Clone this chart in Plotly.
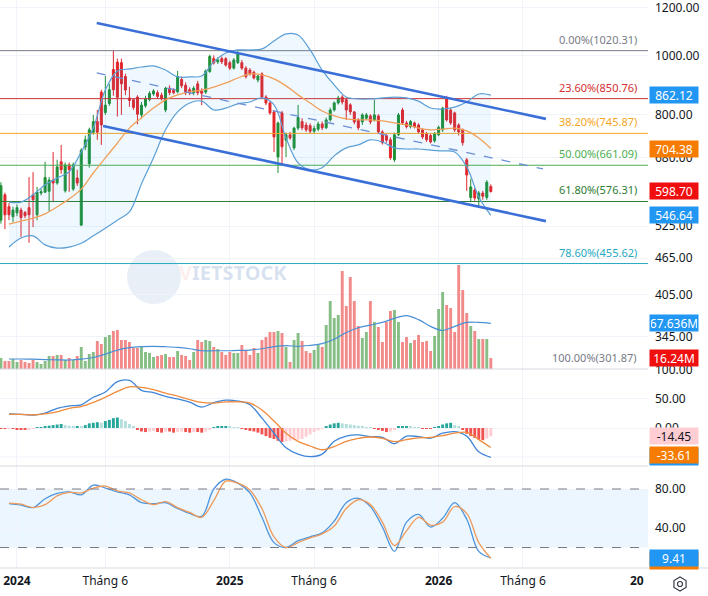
import math
import pandas as pd
import plotly.graph_objects as go

FONT = "Noto Sans"
TXT = "#131722"
GRID = "#f0f3fa"

# ---------------- data (weekly bars) ----------------
first_bar = "2023-12-04"
opens = [537, 591, 565, 544, 552, 558, 553, 563, 591, 548,
         595, 597, 599, 625, 618, 670, 600, 662, 604, 630,
         527, 708, 665, 749, 780, 872, 807, 835, 950, 977,
         975, 925, 853, 847, 856, 800, 828, 848, 866, 870,
         862, 815, 885, 878, 873, 915, 895, 880, 870, 900,
         876, 872, 943, 990, 978, 990, 990, 975, 955, 975,
         975, 955, 948, 940, 913, 935, 856, 837, 809, 682,
         806, 727, 742, 706, 761, 780, 770, 768, 752, 758,
         773, 762, 785, 815, 837, 856, 847, 831, 809, 785,
         779, 790, 797, 785, 797, 750, 740, 728, 675, 742,
         815, 776, 765, 776, 770, 756, 745, 740, 725, 742,
         756, 850, 815, 806, 770, 756, 675, 585, 602, 582,
         595, 585, 610]
highs = [620, 596, 573, 565, 570, 563, 556, 632, 644, 609,
         605, 670, 632, 695, 675, 714, 668, 668, 668, 650,
         705, 740, 762, 800, 815, 880, 927, 900, 1020.31, 990,
         990, 935, 890, 850, 862, 840, 860, 875, 882, 878,
         870, 890, 895, 885, 945, 925, 905, 888, 892, 910,
         885, 950, 1005, 1002, 995, 998, 995, 982, 992, 1018,
         985, 962, 955, 946, 932, 940, 862, 842, 815, 780,
         812, 748, 750, 765, 831, 790, 778, 775, 768, 780,
         780, 792, 822, 842, 860, 862, 852, 836, 812, 790,
         805, 806, 802, 847, 802, 755, 745, 735, 748, 806,
         822, 782, 785, 780, 775, 760, 750, 745, 750, 768,
         825, 860, 820, 810, 775, 760, 680, 628, 606, 600,
         600, 625, 615]
lows = [530, 519, 537, 533, 545, 504, 541, 493, 523, 537,
        590, 595, 555, 575, 614, 640, 596, 598, 600, 611,
        525, 700, 655, 742, 728, 714, 800, 828, 860, 795,
        800, 862, 825, 815, 772, 790, 822, 842, 860, 850,
        845, 808, 862, 865, 868, 885, 862, 862, 862, 862,
        830, 866, 938, 968, 970, 970, 960, 948, 950, 970,
        948, 918, 928, 915, 905, 850, 830, 800, 695, 642,
        662, 682, 728, 700, 755, 755, 750, 745, 745, 752,
        755, 758, 780, 810, 832, 832, 785, 800, 772, 755,
        770, 785, 772, 780, 745, 715, 720, 675, 669, 738,
        770, 760, 760, 760, 745, 730, 722, 718, 720, 738,
        750, 780, 770, 750, 740, 712, 600, 575, 578, 565,
        580, 580, 596]
closes = [612, 548, 548, 558, 563, 542, 546, 548, 580, 597,
          598, 631, 625, 618, 657, 650, 662, 650, 662, 618,
          700, 728, 756, 780, 749, 770, 830, 880, 880, 855,
          900, 879, 845, 823, 802, 830, 850, 868, 876, 858,
          850, 885, 870, 870, 925, 893, 870, 870, 885, 870,
          868, 945, 998, 974, 985, 978, 966, 955, 985, 1010,
          955, 925, 935, 920, 927, 856, 837, 806, 736, 776,
          709, 742, 733, 761, 792, 762, 756, 752, 760, 773,
          762, 785, 815, 837, 853, 840, 815, 809, 779, 762,
          800, 800, 779, 800, 750, 720, 727, 680, 742, 800,
          776, 765, 780, 765, 750, 736, 728, 722, 745, 763,
          821, 785, 776, 756, 750, 720, 637, 609, 584, 595,
          588, 620, 598.70]
volume_m = [16.3, 11.8, 11.8, 14.8, 10.4, 13.3, 10.4, 8.9, 13.3, 10.4,
            7.4, 11.8, 19.2, 19.2, 20.7, 20.7, 13.3, 16.3, 13.3, 19.2,
            32.6, 11.8, 22.2, 25.2, 41.4, 37.0, 47.4, 50.3, 56.2, 57.7,
            42.9, 42.9, 40.0, 31.1, 31.1, 32.6, 25.2, 23.7, 17.8, 19.2,
            20.7, 22.2, 17.8, 17.8, 26.6, 20.7, 19.2, 13.3, 25.2, 42.9,
            40.0, 42.9, 41.4, 32.6, 29.6, 25.2, 20.7, 25.2, 23.7, 23.7,
            35.5, 28.1, 20.7, 31.1, 23.7, 42.9, 47.4, 54.8, 54.8, 56.2,
            53.3, 32.6, 10.4, 42.9, 53.3, 41.4, 26.6, 23.7, 28.1, 35.5,
            32.6, 65.1, 100.6, 75.5, 79.9, 145.0, 93.2, 136.2, 100.6, 63.6,
            45.9, 54.8, 100.6, 69.6, 62.2, 40.0, 69.6, 85.8, 87.3, 69.6,
            40.0, 47.4, 38.5, 42.9, 50.3, 40.0, 41.4, 26.6, 48.8, 88.8,
            114.0, 94.7, 90.3, 54.8, 153.9, 116.9, 82.9, 63.6, 56.2, 44.4,
            44.4, 44.4, 16.24]
macd_hist = [-1, -1.5, -1, -1.5, -2, -3, -3.5, -3, -1, 1,
             1.5, 2, 4, 5, 6, 7, 5, 4, 3, 3,
             2, 5, 8, 9, 10, 9, 12, 14, 17, 18,
             15, 12, 7, 3, -3, -6, -7, -6, -5, -7,
             -8, -6, -6, -8, -7, -6, -7, -8, -7, -7,
             -8, -6, -2, 1, 3, 3, 3, 2, 1, 0.5,
             -1, -3, -5, -6, -8, -11, -14, -17, -19, -22,
             -24, -23, -22, -21, -20, -19, -15, -11, -7, -4,
             -1, 2, 6, 8, 9, 8, 7, 6, 5, 4,
             2, 1, 0.5, -1, -3, -5, -7, -6, -2, 2,
             3, 3, 2, 1, 0.5, -0.5, -1, -1.5, 1, 3,
             6, 8, 9, 5, 2, -3, -10, -14, -17, -20,
             -21, -18, -14.45]

# indicator lines, read at every third weekly bar (bars 2, 5, 8, ... 122)
sample_start, sample_step = 2, 3
bb_upper = [575, 575, 591, 614, 630, 645, 695, 761, 879, 945,
            952, 959, 963, 948, 924, 924, 927, 978, 1011, 1023,
            1023, 1027, 1058, 1087, 1083, 1023, 948, 896, 856, 850,
            850, 853, 856, 853, 843, 821, 818, 824, 840, 866, 862.12]
bb_basis = [529, 535, 541, 550, 565, 582, 604, 642, 680, 719,
            761, 791, 821, 847, 863, 873, 879, 889, 903, 920,
            934, 931, 917, 893, 863, 837, 812, 797, 788, 785,
            785, 782, 776, 770, 761, 756, 758, 761, 753, 733, 704.38]
bb_lower = [485, 502, 506, 489, 483, 485, 492, 506, 521, 537,
            554, 616, 680, 756, 809, 837, 843, 815, 821, 834,
            840, 853, 831, 733, 667, 650, 655, 685, 706, 714,
            728, 722, 706, 703, 703, 700, 698, 695, 657, 586, 546.64]
vol_ma_m = [14.8, 14.8, 14.5, 14, 13.5, 13.3, 14.5, 17, 22, 28,
            31.5, 33, 33.5, 33, 32, 30, 27, 27, 27, 27.5,
            28, 30, 33, 34.5, 33.5, 35, 37.5, 44, 54, 61,
            65, 69, 75, 79, 73, 63, 57, 63, 69, 69, 67.636]
macd_line = [24.5, 23.5, 22.4, 25.5, 34, 38, 40, 53, 62, 80,
             82, 65, 61, 54.5, 50, 44.5, 36, 43.6, 48, 46.5,
             40, 17, -9, -34, -45, -49.4, -45, -23, -14, -12,
             -15, -16, -27, -14, -15, -17.5, -9, -6.3, -14, -41, -50.6]
macd_signal = [24, 23.5, 22.4, 24.5, 28, 34, 37, 44, 53, 63,
               71, 70, 66, 60, 55, 49, 44, 43, 45, 45,
               43, 31, 12, -9, -23, -31, -37.5, -32, -23, -18,
               -15.5, -18, -23.6, -20, -17, -16, -13, -9, -7.5, -20, -33.61]
stoch_k = [65, 63.5, 61, 70, 75.5, 77, 74, 84, 81, 77,
           74, 66, 65, 66, 60, 55, 52, 80, 90, 86,
           76, 51, 25, 20, 27, 31, 35, 47, 66, 70.5,
           62, 41, 16, 46, 54, 41, 50, 66, 49, 16, 9.41]
stoch_d = [65.5, 64.5, 61, 64, 73, 76.5, 76, 81, 83, 78,
           76, 69, 64, 67, 61, 56, 51, 68, 88, 86,
           79, 60, 31, 20, 25, 30, 34, 42, 60, 69,
           64, 46, 22, 37, 51, 43, 46, 62, 55, 25, 9]

fib_names = ["0.00%", "23.60%", "38.20%", "50.00%", "61.80%", "78.60%", "100.00%"]
fib_prices = [1020.31, 850.76, 745.87, 661.09, 576.31, 455.62, 301.87]

channel_upper_dates = ["2024-05-19", "2026-07-11"]
channel_upper_prices = [1133, 788]
channel_lower_dates = ["2024-05-30", "2026-07-11"]
channel_lower_prices = [767, 535]
channel_mid_dates = ["2024-05-19", "2026-07-06"]
channel_mid_prices = [938, 652]

x_tick_dates = ["2024-01-01", "2024-06-03", "2025-01-06", "2025-06-02", "2026-01-05", "2026-06-01"]
x_tick_text = ["<b>2024</b>", "Tháng 6", "<b>2025</b>", "Tháng 6", "<b>2026</b>", "Tháng 6"]
price_ticks = [1200, 1000, 800, 680, 525, 465, 405, 345]
macd_ticks = [100, 50, 0]
macd_extra_grid = [-50]
stoch_ticks = [80, 40]
stoch_band = [20, 80]

# ---------------- styling ----------------
UP, DOWN = "#1f8f35", "#e3262b"
VOL_UP, VOL_DOWN = "rgba(60,150,60,0.62)", "rgba(235,75,75,0.65)"
BB_LINE = "#5b9fd6"
BB_FILL = "rgba(33,150,243,0.07)"
MA_COL = "#f0a05a"
CHAN = "#3b6fd8"
fib_colors = ["#787b86", "#d32f2f", "#f5a623", "#4caf50", "#2e7d32", "#26a9bf", "#787b86"]

W, H = 708, 596
ML, MR, MT, MB = 0, 60, 0, 28
PW, PH = W - ML - MR, H - MT - MB          # 648 x 568
P_PRICE_BOT, P_MACD_BOT = 369, 466          # pixel rows of pane borders
dom_price = [(PH - P_PRICE_BOT) / PH, 1]
dom_macd = [(PH - P_MACD_BOT) / PH, (PH - P_PRICE_BOT) / PH]
dom_stoch = [0, (PH - P_MACD_BOT) / PH]
price_range = [math.log10(305.6), math.log10(1236.1)]
vol_range = [0, 546]
macd_range = [-65.5, 101.7]
stoch_range = [-1.0, 103.6]
x_range = ["2023-12-02 09:00", "2027-01-05"]

dates = pd.date_range(first_bar, periods=len(closes), freq="7D")
sx = [dates[i] for i in range(sample_start, len(closes), sample_step)]
WEEK_MS = 7 * 86400000

fig = go.Figure()

# fib lines
for name, p, c in zip(fib_names, fib_prices, fib_colors):
    fig.add_trace(go.Scatter(x=x_range, y=[p, p], mode="lines",
                             line=dict(color=c, width=1), hoverinfo="skip", yaxis="y"))

# bollinger bands
fig.add_trace(go.Scatter(x=sx, y=bb_upper, mode="lines", line=dict(color=BB_LINE, width=1.2, shape="spline"),
                         yaxis="y", hoverinfo="skip"))
fig.add_trace(go.Scatter(x=sx, y=bb_lower, mode="lines", line=dict(color=BB_LINE, width=1.2, shape="spline"),
                         fill="tonexty", fillcolor=BB_FILL, yaxis="y", hoverinfo="skip"))
fig.add_trace(go.Scatter(x=sx, y=bb_basis, mode="lines", line=dict(color=MA_COL, width=1.3, shape="spline"),
                         yaxis="y", hoverinfo="skip"))

# candles
fig.add_trace(go.Candlestick(x=dates, open=opens, high=highs, low=lows, close=closes,
                             increasing=dict(line=dict(color=UP, width=1), fillcolor=UP),
                             decreasing=dict(line=dict(color=DOWN, width=1), fillcolor=DOWN),
                             whiskerwidth=0, yaxis="y", hoverinfo="skip"))

# channel
fig.add_trace(go.Scatter(x=channel_upper_dates, y=channel_upper_prices, mode="lines",
                         line=dict(color=CHAN, width=2.6), yaxis="y", hoverinfo="skip"))
fig.add_trace(go.Scatter(x=channel_lower_dates, y=channel_lower_prices, mode="lines",
                         line=dict(color=CHAN, width=2.6), yaxis="y", hoverinfo="skip"))
fig.add_trace(go.Scatter(x=channel_mid_dates, y=channel_mid_prices, mode="lines",
                         line=dict(color="#6b8fd6", width=1.3, dash="dash"), yaxis="y", hoverinfo="skip"))

# volume
vol_colors = [VOL_UP if c >= o else VOL_DOWN for o, c in zip(opens, closes)]
fig.add_trace(go.Bar(x=dates, y=volume_m, marker=dict(color=vol_colors, line=dict(width=0)),
                     width=0.72 * WEEK_MS, yaxis="y2", hoverinfo="skip"))
fig.add_trace(go.Scatter(x=sx, y=vol_ma_m, mode="lines", line=dict(color="#4a8fd4", width=1.2, shape="spline"),
                         yaxis="y2", hoverinfo="skip"))

# macd
hist_colors = []
for k, v in enumerate(macd_hist):
    prev = macd_hist[k - 1] if k else v
    if v >= 0:
        hist_colors.append("#26a69a" if v >= prev else "#b2dfdb")
    else:
        hist_colors.append("#ffcdd2" if v > prev else "#ef5350")
fig.add_trace(go.Bar(x=dates, y=macd_hist, marker=dict(color=hist_colors, line=dict(width=0)),
                     width=0.72 * WEEK_MS, yaxis="y3", hoverinfo="skip"))
fig.add_trace(go.Scatter(x=sx, y=macd_line, mode="lines", line=dict(color="#3f86d8", width=1.3, shape="spline"),
                         yaxis="y3", hoverinfo="skip"))
fig.add_trace(go.Scatter(x=sx, y=macd_signal, mode="lines", line=dict(color="#f08a3c", width=1.3, shape="spline"),
                         yaxis="y3", hoverinfo="skip"))

# stochastic
fig.add_trace(go.Scatter(x=sx, y=stoch_k, mode="lines", line=dict(color="#4f95dc", width=1.3, shape="spline"),
                         yaxis="y4", hoverinfo="skip"))
fig.add_trace(go.Scatter(x=sx, y=stoch_d, mode="lines", line=dict(color="#ee9a5c", width=1.3, shape="spline"),
                         yaxis="y4", hoverinfo="skip"))

shapes = []
shapes.append(dict(type="rect", xref="paper", x0=0, x1=1, yref="y4", y0=stoch_band[0], y1=stoch_band[1],
                   fillcolor="rgba(33,150,243,0.09)", line=dict(width=0), layer="below"))
for lv in stoch_band:
    shapes.append(dict(type="line", xref="paper", x0=0, x1=1, yref="y4", y0=lv, y1=lv,
                       line=dict(color="#787b86", width=1, dash="dash")))
for lv in macd_extra_grid:
    shapes.append(dict(type="line", xref="paper", x0=0, x1=1, yref="y3", y0=lv, y1=lv,
                       line=dict(color=GRID, width=1), layer="below"))
for yp in (dom_price[0], dom_macd[0]):
    shapes.append(dict(type="line", xref="paper", x0=0, x1=1, yref="paper", y0=yp, y1=yp,
                       line=dict(color="#d6d9e0", width=1)))
shapes.append(dict(type="line", xref="paper", x0=0, x1=W / PW, yref="paper", y0=0, y1=0,
                   line=dict(color="#d6d9e0", width=1)))

# watermark circle
def px2paper(px, py):
    return px / PW, (PH - py) / PH
cx0, cy0 = px2paper(127, 250)
cx1, cy1 = px2paper(181, 304)
shapes.append(dict(type="circle", xref="paper", yref="paper", x0=cx0, x1=cx1, y0=cy1, y1=cy0,
                   fillcolor="rgba(150,180,215,0.22)", line=dict(width=0), layer="below"))

# settings icon (hexagon + dot)
hx, hy, hr = 680, 584, 7
pts = [px2paper(hx + hr * math.cos(math.radians(90 + 60 * k)), hy + hr * math.sin(math.radians(90 + 60 * k)))
       for k in range(6)]
path = "M " + " L ".join(f"{a:.5f},{b:.5f}" for a, b in pts) + " Z"
shapes.append(dict(type="path", xref="paper", yref="paper", path=path, line=dict(color="#3a3e4a", width=1.2)))
d0 = px2paper(hx - 2.5, hy - 2.5)
d1 = px2paper(hx + 2.5, hy + 2.5)
shapes.append(dict(type="circle", xref="paper", yref="paper", x0=d0[0], x1=d1[0], y0=d1[1], y1=d0[1],
                   line=dict(color="#3a3e4a", width=1.2)))

annotations = []
# fib labels
for name, p, c in zip(fib_names, fib_prices, fib_colors):
    yv = max(math.log10(p), price_range[0])
    annotations.append(dict(xref="paper", x=639 / PW, xanchor="right", yref="y", y=yv, yanchor="bottom",
                            yshift=2, text=f"{name}({p:.2f})", showarrow=False,
                            font=dict(family=FONT, size=11, color=c)))

def box(yref, yv, text, bg, fg="white", yshift=0):
    annotations.append(dict(xref="paper", x=1, xanchor="left", xshift=1, yref=yref, y=yv, yanchor="middle",
                            yshift=yshift, text=text, showarrow=False, bgcolor=bg, borderpad=1,
                            width=46, height=14, align="center",
                            font=dict(family=FONT, size=12, color=fg)))

box("y", math.log10(bb_upper[-1]), f"{bb_upper[-1]:.2f}", "#2196f3")
box("y", math.log10(bb_basis[-1]), f"{bb_basis[-1]:.2f}", "#f57c00")
box("y", math.log10(closes[-1]), f"{closes[-1]:.2f}", "#f00f0f")
box("y", math.log10(bb_lower[-1]), f"{bb_lower[-1]:.2f}", "#2196f3")
box("y2", vol_ma_m[-1], f"{vol_ma_m[-1]:.3f}M", "#2196f3")
box("y2", volume_m[-1], f"{volume_m[-1]:.2f}M", "#f00f0f")
box("y3", macd_line[-1], " ", "#2196f3")          # MACD-line tag, covered by the signal tag
box("y3", macd_signal[-1], f"{macd_signal[-1]:.2f}", "#f57c00", yshift=-7)
box("y3", macd_hist[-1], f"{macd_hist[-1]:.2f}", "#ffcdd2", fg=TXT)
box("y4", stoch_d[-1], " ", "#f57c00", yshift=-3)   # %D tag, covered by the %K tag
box("y4", stoch_k[-1], f"{stoch_k[-1]:.2f}", "#2196f3")

# clipped 2027 label at the right edge of the time scale
annotations.append(dict(xref="paper", x=646 / PW, xanchor="right", yref="paper", y=(PH - 580) / PH,
                        yanchor="middle", text="<b>20</b>", showarrow=False,
                        font=dict(family=FONT, size=12, color=TXT)))
# watermark text
wx, wy = px2paper(233, 272)
annotations.append(dict(xref="paper", yref="paper", x=wx, y=wy, xanchor="center", yanchor="middle",
                        text="<b><span style='color:rgba(235,120,120,0.35)'>V</span>IETSTOCK</b>",
                        showarrow=False, font=dict(family=FONT, size=20, color="rgba(140,170,210,0.35)")))

axis_font = dict(family=FONT, size=12, color=TXT)
fig.update_layout(
    width=W, height=H, margin=dict(l=ML, r=MR, t=MT, b=MB, autoexpand=False),
    paper_bgcolor="white", plot_bgcolor="white", showlegend=False,
    font=dict(family=FONT, color=TXT),
    xaxis=dict(type="date", range=x_range, tickvals=x_tick_dates, ticktext=x_tick_text,
               showgrid=True, gridcolor=GRID, zeroline=False, showline=False, ticks="",
               tickfont=axis_font, anchor="y4", rangeslider=dict(visible=False), fixedrange=True,
               automargin=False, ticklabelstandoff=4, ticklabeloverflow="allow"),
    yaxis=dict(type="log", domain=dom_price, range=price_range, side="right", tickvals=price_ticks,
               tickformat=".2f", showgrid=True, gridcolor=GRID, zeroline=False, ticks="",
               tickfont=axis_font, ticklabelstandoff=6, anchor="x", automargin=False,
               ticklabeloverflow="allow"),
    yaxis2=dict(overlaying="y", range=vol_range, visible=False, side="right", anchor="x", automargin=False),
    yaxis3=dict(domain=dom_macd, range=macd_range, side="right", tickvals=macd_ticks, tickformat=".2f",
                showgrid=True, gridcolor=GRID, zeroline=False, ticks="", tickfont=axis_font,
                ticklabelstandoff=6, anchor="x", automargin=False, ticklabeloverflow="allow"),
    yaxis4=dict(domain=dom_stoch, range=stoch_range, side="right", tickvals=stoch_ticks, tickformat=".2f",
                showgrid=True, gridcolor=GRID, zeroline=False, ticks="", tickfont=axis_font,
                ticklabelstandoff=6, anchor="x", automargin=False, ticklabeloverflow="allow"),
    shapes=shapes, annotations=annotations,
)

fig.write_html("out.html", config={"displayModeBar": False})
